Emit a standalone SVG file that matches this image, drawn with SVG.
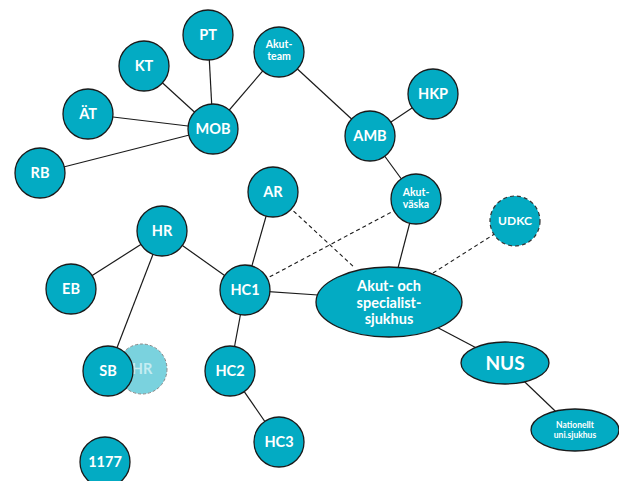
<svg xmlns="http://www.w3.org/2000/svg" width="619" height="481" viewBox="0 0 619 481">
<style>
.n{fill:#03abc3;stroke:#1a1a1a;stroke-width:1.3}
.d{fill:#03abc3;stroke:#333;stroke-width:1.2;stroke-dasharray:4 3}
.g{fill:#7ad2de;stroke:#888;stroke-width:1;stroke-dasharray:3 2}
.c{stroke:#1a1a1a;stroke-width:1.2;fill:none}
.cd{stroke:#1a1a1a;stroke-width:1.1;fill:none;stroke-dasharray:4 3}
text{font-family:Lato,"Noto Sans",sans-serif;font-weight:bold;fill:#fff;text-anchor:middle}
.t{font-size:14.5px}
.s{font-size:10.5px}
</style>
<rect width="619" height="481" fill="#fff"/>
<g id="connectors">
<line class="c" x1="213" y1="129" x2="208" y2="35"/>
<line class="c" x1="213" y1="129" x2="144" y2="66"/>
<line class="c" x1="213" y1="129" x2="88" y2="114"/>
<line class="c" x1="213" y1="129" x2="40" y2="173"/>
<line class="c" x1="213" y1="129" x2="279" y2="52"/>
<line class="c" x1="279" y1="52" x2="370" y2="136"/>
<line class="c" x1="370" y1="136" x2="433" y2="94"/>
<line class="c" x1="370" y1="136" x2="416" y2="199"/>
<line class="c" x1="416" y1="199" x2="398" y2="268"/>
<line class="c" x1="273" y1="192" x2="245" y2="290"/>
<line class="cd" x1="273" y1="192" x2="355" y2="268"/>
<line class="cd" x1="245" y1="290" x2="416" y2="199"/>
<line class="cd" x1="433" y1="273" x2="515" y2="221"/>
<line class="c" x1="162" y1="231" x2="71" y2="289"/>
<line class="c" x1="162" y1="231" x2="108" y2="371"/>
<line class="c" x1="162" y1="231" x2="245" y2="290"/>
<line class="c" x1="245" y1="290" x2="318" y2="295"/>
<line class="c" x1="245" y1="290" x2="230" y2="371"/>
<line class="c" x1="230" y1="371" x2="279" y2="442"/>
<line class="c" x1="389" y1="302" x2="505" y2="363"/>
<line class="c" x1="505" y1="363" x2="575" y2="430"/>
</g>
<g id="PT"><circle class="n" cx="208" cy="35" r="25"/><text class="t" x="208" y="40">PT</text></g>
<g id="KT"><circle class="n" cx="144" cy="66" r="25"/><text class="t" x="144" y="71">KT</text></g>
<g id="Akutteam"><circle class="n" cx="279" cy="52" r="25"/><text class="s" x="279" y="48">Akut-</text><text class="s" x="279" y="60">team</text></g>
<g id="AT"><circle class="n" cx="88" cy="114" r="25"/><text class="t" x="88" y="119">ÄT</text></g>
<g id="MOB"><circle class="n" cx="213" cy="129" r="25"/><text class="t" x="213" y="134">MOB</text></g>
<g id="RB"><circle class="n" cx="40" cy="173" r="25"/><text class="t" x="40" y="178">RB</text></g>
<g id="HKP"><circle class="n" cx="433" cy="94" r="25"/><text class="t" x="433" y="99">HKP</text></g>
<g id="AMB"><circle class="n" cx="370" cy="136" r="25"/><text class="t" x="370" y="141">AMB</text></g>
<g id="AR"><circle class="n" cx="273" cy="192" r="25"/><text class="t" x="273" y="197">AR</text></g>
<g id="Akutvaska"><circle class="n" cx="416" cy="199" r="25"/><text class="s" x="416" y="196">Akut-</text><text class="s" x="416" y="208">väska</text></g>
<g id="UDKC"><circle class="d" cx="515" cy="221" r="25"/><text x="515" y="225" style="font-size:12px">UDKC</text></g>
<g id="HR"><circle class="n" cx="162" cy="231" r="25"/><text class="t" x="162" y="236">HR</text></g>
<g id="EB"><circle class="n" cx="71" cy="289" r="25"/><text class="t" x="71" y="294">EB</text></g>
<g id="HC1"><circle class="n" cx="245" cy="290" r="25"/><text class="t" x="245" y="295">HC1</text></g>
<g id="HRghost"><circle class="g" cx="142" cy="369" r="25"/><text class="t" x="142" y="374" style="fill:#c5edf2">HR</text></g>
<g id="SB"><circle class="n" cx="108" cy="371" r="25"/><text class="t" x="108" y="376">SB</text></g>
<g id="HC2"><circle class="n" cx="230" cy="371" r="25"/><text class="t" x="230" y="376">HC2</text></g>
<g id="HC3"><circle class="n" cx="279" cy="442" r="25"/><text class="t" x="279" y="447">HC3</text></g>
<g id="n1177"><circle class="n" cx="105" cy="462" r="25"/><text class="t" x="105" y="467">1177</text></g>
<g id="Sjukhus"><ellipse class="n" cx="389" cy="302" rx="73" ry="35"/><text x="389" y="291" style="font-size:14.5px">Akut- och</text><text x="389" y="307.5" style="font-size:14.5px">specialist-</text><text x="389" y="324" style="font-size:14.5px">sjukhus</text></g>
<g id="NUS"><ellipse class="n" cx="505" cy="363" rx="44" ry="21"/><text x="505" y="370" style="font-size:19px">NUS</text></g>
<g id="Nationellt"><ellipse class="n" cx="575" cy="430" rx="44" ry="21"/><text x="575" y="428" style="font-size:8.5px">Nationellt</text><text x="575" y="438" style="font-size:8.5px">uni.sjukhus</text></g>
</svg>
